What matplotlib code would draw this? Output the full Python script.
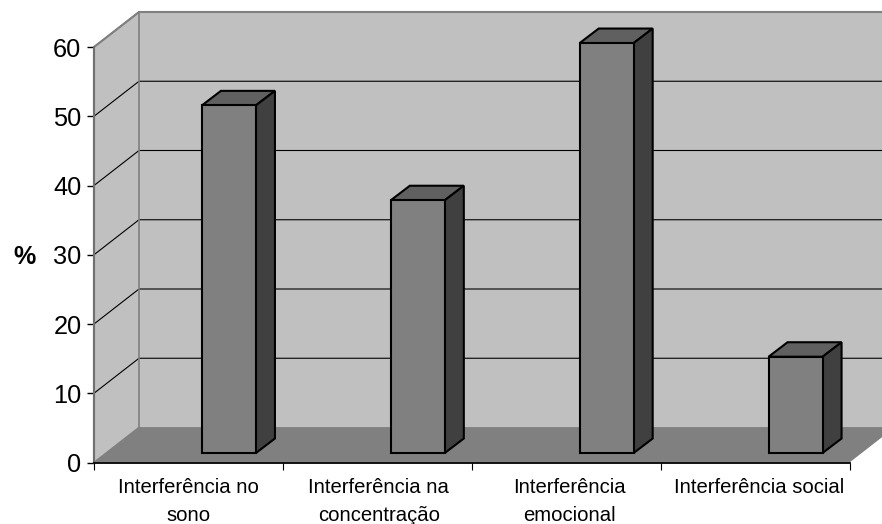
import matplotlib
matplotlib.use("Agg")
import matplotlib.pyplot as plt
from matplotlib.patches import Polygon

plt.rcParams['font.family'] = ['Liberation Sans', 'DejaVu Sans']

categories = ["Interferência no\nsono", "Interferência na\nconcentração",
              "Interferência\nemocional", "Interferência social"]
values = [50.2, 36.5, 59.2, 13.9]
y_ticks = [0, 10, 20, 30, 40, 50, 60]

W, H = 882, 524
fig = plt.figure(figsize=(W / 100, H / 100), dpi=100)
ax = fig.add_axes([94 / W, 1 - 462.5 / H, 755.5 / W, 415.5 / H])
ax.set_xlim(0, len(categories))
ax.set_ylim(0, 60)

# fake 3d depth, in data units
px_x = len(categories) / 755.5
px_y = 60 / 415.5
dx, dy = 45 * px_x, 35 * px_y
bar_dx, bar_dy = 19 * px_x, 14.5 * px_y
bar_w = 54 * px_x
bar_shift = 13.5 * px_x
bar_lift = 9.5 * px_y


def poly(points, color, edge='none', lw=0.0, z=1):
    ax.add_patch(Polygon(points, closed=True, facecolor=color, edgecolor=edge,
                         linewidth=lw, zorder=z, clip_on=False, joinstyle='miter'))


n = len(categories)
top = y_ticks[-1]
# walls and floor
poly([(0, 0), (dx, dy), (dx, top + dy), (0, top)], '#c0c0c0', z=1)
poly([(dx, dy), (n + dx, dy), (n + dx, top + dy), (dx, top + dy)], '#c0c0c0', z=1)
poly([(0, 0), (dx, dy), (n + dx, dy), (n, 0)], '#808080', z=1)

# gridlines
for v in y_ticks[1:]:
    ax.plot([0, dx, n + dx], [v, v + dy, v + dy], color='black', lw=0.8, zorder=2,
            clip_on=False, solid_joinstyle='miter')

# wall edges
ax.plot([0, 0, dx, n + dx], [0, top, top + dy, top + dy], color='#808080', lw=1.5,
        zorder=3, clip_on=False, solid_joinstyle='miter')
ax.plot([dx, dx, n + dx], [top + dy, dy, dy], color='#808080', lw=1.2, zorder=2.5,
        clip_on=False, solid_joinstyle='miter')
ax.plot([0, dx], [0, dy], color='#808080', lw=1.2, zorder=2.5, clip_on=False)
ax.plot([0, 0], [0, top], color='#707070', lw=1.5, zorder=3, clip_on=False)

# bars
for i, v in enumerate(values):
    x0 = i + 0.5 + bar_shift
    x1 = x0 + bar_w
    y0 = bar_lift
    y1 = bar_lift + v
    edge = dict(edge='black', lw=1.5, z=5)
    poly([(x0, y1), (x1, y1), (x1 + bar_dx, y1 + bar_dy), (x0 + bar_dx, y1 + bar_dy)], '#606060', **edge)
    poly([(x1, y0), (x1 + bar_dx, y0 + bar_dy), (x1 + bar_dx, y1 + bar_dy), (x1, y1)], '#404040', **edge)
    poly([(x0, y0), (x1, y0), (x1, y1), (x0, y1)], '#808080', **edge)

for name in ['top', 'right', 'left']:
    ax.spines[name].set_visible(False)
ax.spines['bottom'].set_linewidth(1.3)
ax.spines['bottom'].set_zorder(6)

ax.set_yticks(y_ticks)
ax.tick_params(axis='y', labelsize=18.3, length=5, width=1.0, pad=4)
ax.set_xticks([i for i in range(n + 1)])
ax.set_xticklabels([''] * (n + 1))
ax.tick_params(axis='x', length=5, width=0.8)

# category labels sit between the ticks, nudged a little as in the original
nudge = [0, 1, 2, 3]
for i, label in enumerate(categories):
    ax.annotate(label, xy=(i + 0.5, 0), xycoords='data', xytext=(nudge[i], -11),
                textcoords='offset points', ha='center', va='top', fontsize=14.6,
                linespacing=1.62, color='black', annotation_clip=False)

fig.text(24 / W, 1 - 257 / H, "%", fontsize=18, fontweight='bold', ha='center', va='center')

fig.savefig("out.png", dpi=100)
